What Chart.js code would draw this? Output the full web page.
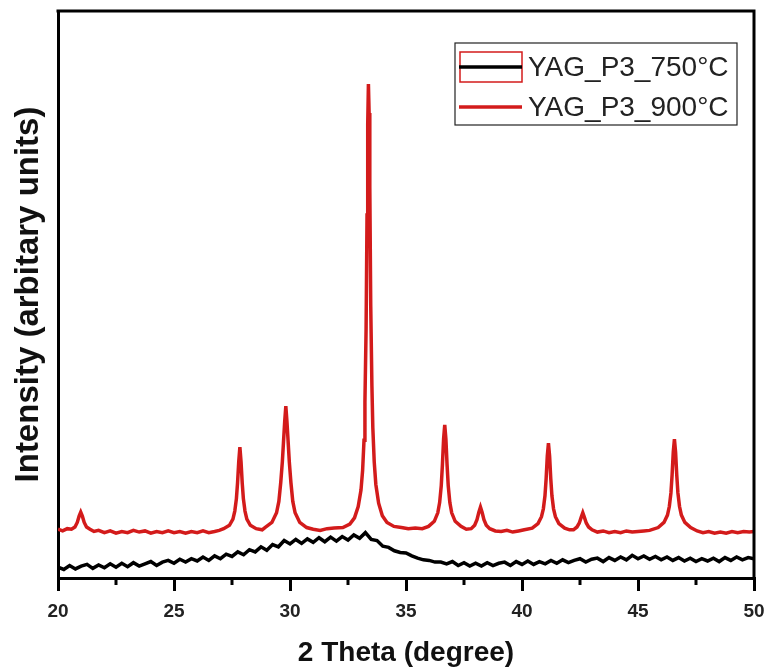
<!DOCTYPE html>
<html>
<head>
<meta charset="utf-8">
<title>YAG XRD</title>
<script src="https://cdn.jsdelivr.net/npm/chart.js@4/dist/chart.umd.min.js"></script>
<style>
  body { margin: 0; background: #fff; }
  canvas { display: block; }
</style>
</head>
<body>
<canvas id="xrdChart" width="769" height="670"></canvas>
<script>
// ================= DATA =================
const seriesNames = ["YAG_P3_750°C", "YAG_P3_900°C"];
const xTickValues = [20, 25, 30, 35, 40, 45, 50];
const xMinorTicks = [22.5, 27.5, 32.5, 37.5, 42.5, 47.5];

// 750°C sample (amorphous hump)
const theta750 = [
  20.00, 20.25, 20.50, 20.75, 21.00, 21.25, 21.50, 21.75, 22.00, 22.25, 22.50, 22.75,
  23.00, 23.25, 23.50, 23.75, 24.00, 24.25, 24.50, 24.75, 25.00, 25.25, 25.50, 25.75,
  26.00, 26.25, 26.50, 26.75, 27.00, 27.25, 27.50, 27.75, 28.00, 28.25, 28.50, 28.75,
  29.00, 29.25, 29.50, 29.75, 30.00, 30.25, 30.50, 30.75, 31.00, 31.25, 31.50, 31.75,
  32.00, 32.25, 32.50, 32.75, 33.00, 33.25, 33.50, 33.75, 34.00, 34.25, 34.50, 34.75,
  35.00, 35.25, 35.50, 35.75, 36.00, 36.25, 36.50, 36.75, 37.00, 37.25, 37.50, 37.75,
  38.00, 38.25, 38.50, 38.75, 39.00, 39.25, 39.50, 39.75, 40.00, 40.25, 40.50, 40.75,
  41.00, 41.25, 41.50, 41.75, 42.00, 42.25, 42.50, 42.75, 43.00, 43.25, 43.50, 43.75,
  44.00, 44.25, 44.50, 44.75, 45.00, 45.25, 45.50, 45.75, 46.00, 46.25, 46.50, 46.75,
  47.00, 47.25, 47.50, 47.75, 48.00, 48.25, 48.50, 48.75, 49.00, 49.25, 49.50, 49.75,
  50.00
];
const intensity750 = [
  1.9, 1.5, 2.2, 1.6, 2.1, 2.4, 1.7, 2.3, 1.8, 2.5, 1.9, 2.6,
  2.0, 2.7, 2.1, 2.5, 2.9, 2.2, 2.8, 3.1, 2.6, 3.3, 2.8, 3.4,
  3.0, 3.7, 3.1, 3.9, 3.4, 4.2, 3.8, 4.6, 4.1, 5.0, 4.6, 5.5,
  4.9, 5.9, 5.5, 6.6, 6.0, 6.8, 6.1, 6.9, 6.3, 7.1, 6.4, 7.2,
  6.5, 7.3, 6.7, 7.6, 7.0, 8.0, 6.8, 6.6, 5.6, 5.4, 4.8, 4.5,
  4.4, 3.9, 3.5, 3.2, 3.1, 2.8, 2.8, 2.5, 2.9, 2.2, 2.7, 2.1,
  2.6, 2.1, 2.7, 2.2, 2.6, 2.8, 2.2, 2.9, 2.4, 3.0, 2.4, 2.9,
  2.5, 3.1, 2.6, 3.2, 2.7, 3.1, 3.4, 2.8, 3.3, 3.5, 2.9, 3.6,
  3.1, 3.7, 3.2, 4.0, 3.4, 3.9, 3.3, 3.8, 3.2, 3.7, 3.1, 3.6,
  3.0, 3.5, 2.9, 3.4, 3.0, 3.5, 2.9, 3.6, 3.1, 3.7, 3.2, 3.6,
  3.4
];

// 900°C sample (crystalline YAG peaks), one line per region
const theta900 = [
  20.00, 20.20, 20.40, 20.58, 20.73, 20.83, 20.91, 20.98, 21.05, 21.13, 21.23, 21.38, 21.55,
  21.75, 22.00, 22.25, 22.50, 22.75, 23.00, 23.25, 23.50, 23.75, 24.00, 24.25, 24.50, 24.75, 25.00, 25.25, 25.50, 25.75, 26.00, 26.25, 26.50, 26.75, 26.95,
  27.14, 27.39, 27.54, 27.62, 27.69, 27.74, 27.79, 27.84, 27.89, 27.94, 27.99, 28.06, 28.14, 28.29, 28.54, 28.80,
  28.92, 29.22, 29.42, 29.52, 29.60, 29.67, 29.72, 29.77, 29.82, 29.87, 29.92, 29.97, 30.04, 30.12, 30.22, 30.42, 30.72,
  31.00, 31.30, 31.60, 31.90,
  32.28, 32.58, 32.78, 32.94, 33.06, 33.13, 33.19, 33.23, 33.28, 33.32, 33.35, 33.38, 33.41, 33.44, 33.48, 33.53, 33.57, 33.63, 33.70, 33.82, 33.98, 34.18, 34.48,
  34.80, 35.10, 35.40, 35.70,
  35.97, 36.22, 36.37, 36.45, 36.52, 36.57, 36.62, 36.67, 36.72, 36.77, 36.82, 36.89, 36.97, 37.12, 37.37, 37.60,
  37.81, 37.96, 38.06, 38.14, 38.21, 38.28, 38.36, 38.46, 38.61,
  38.85, 39.10, 39.35, 39.60, 39.85, 40.10,
  40.44, 40.69, 40.84, 40.92, 40.99, 41.04, 41.09, 41.14, 41.19, 41.24, 41.29, 41.36, 41.44, 41.59, 41.84, 42.05,
  42.22, 42.37, 42.47, 42.55, 42.62, 42.69, 42.77, 42.87, 43.02,
  43.25, 43.50, 43.75, 44.00, 44.25, 44.50, 44.75, 45.00, 45.25, 45.50,
  45.87, 46.12, 46.27, 46.35, 46.42, 46.47, 46.52, 46.57, 46.62, 46.67, 46.72, 46.79, 46.87, 47.02, 47.27,
  47.55, 47.80, 48.05, 48.30, 48.55, 48.80, 49.05, 49.30, 49.55, 49.80, 50.00
];
const intensity900 = [
  8.6, 8.3, 8.7, 8.6, 9.0, 9.8, 10.9, 11.6, 10.9, 9.8, 9.0, 8.6, 8.2,
  8.4, 8.0, 8.3, 7.9, 8.2, 8.0, 8.4, 8.1, 8.3, 7.9, 8.2, 8.0, 8.3, 8.0, 8.2, 7.9, 8.2, 8.0, 8.3, 8.0, 8.2, 8.4,
  8.7, 9.3, 10.4, 11.8, 14.0, 16.8, 20.5, 23.1, 20.5, 16.8, 14.0, 11.8, 10.4, 9.3, 8.7, 8.5,
  8.9, 9.8, 11.5, 13.5, 16.8, 20.5, 24.0, 27.5, 30.3, 27.5, 24.0, 20.5, 16.8, 13.5, 11.5, 9.8, 8.9,
  8.6, 8.4, 8.7, 8.8,
  8.9, 9.5, 10.6, 12.6, 15.5, 19.0, 24.3, 31.0, 44.0, 64.0, 80.0, 87.1, 82.0, 69.0, 48.0, 34.0, 26.5, 20.5, 16.5, 13.2, 11.0, 9.8, 9.1,
  8.9, 8.7, 8.8, 8.7,
  9.1, 10.0, 11.5, 13.3, 16.3, 20.0, 24.5, 27.0, 24.5, 20.0, 16.3, 13.3, 11.5, 10.0, 9.1, 8.6,
  8.7, 9.3, 10.3, 11.6, 12.5, 11.6, 10.3, 9.3, 8.7,
  8.3, 8.2, 8.4, 8.1, 8.3, 8.5,
  8.8, 9.6, 10.8, 12.2, 14.5, 17.5, 21.5, 23.8, 21.5, 17.5, 14.5, 12.2, 10.8, 9.6, 8.8, 8.5,
  8.5, 9.0, 9.7, 10.7, 11.5, 10.7, 9.7, 9.0, 8.5,
  8.1, 8.3, 8.0, 8.2, 8.0, 8.3, 8.1, 8.2, 8.3, 8.4,
  8.9, 9.8, 11.1, 12.6, 15.0, 18.2, 22.2, 24.5, 22.2, 18.2, 15.0, 12.6, 11.1, 9.8, 8.9,
  8.3, 8.0, 8.2, 7.9, 8.1, 7.9, 8.2, 8.0, 8.2, 8.1, 8.2
];

// ================= HELPERS =================
const toPoints = (xs, ys) => xs.map((x, i) => ({ x: x, y: ys[i] }));
const FONT = "'Liberation Sans', Arial, sans-serif";

// ================= PLUGIN: FRAME, MINOR TICKS, LEGEND =================
const framePlugin = {
  id: "framePlugin",
  afterDraw(chart) {
    const ctx = chart.ctx;
    const area = chart.chartArea;
    const xs = chart.scales.x;

    ctx.save();
    // top + right border
    ctx.strokeStyle = "#000";
    ctx.lineWidth = 3;
    ctx.beginPath();
    ctx.moveTo(area.left - 1.5, area.top);
    ctx.lineTo(area.right, area.top);
    ctx.lineTo(area.right, area.bottom + 1.5);
    ctx.stroke();

    // minor ticks
    xMinorTicks.forEach(v => {
      const px = xs.getPixelForValue(v);
      ctx.beginPath();
      ctx.moveTo(px, area.bottom);
      ctx.lineTo(px, area.bottom + 7);
      ctx.stroke();
    });

    // legend
    const ds = chart.data.datasets;
    ctx.lineWidth = 1.2;
    ctx.strokeStyle = "#222";
    ctx.strokeRect(455, 43, 282, 82);

    const rows = [67, 107];
    ctx.font = "28px " + FONT;
    ctx.textBaseline = "middle";
    ctx.fillStyle = "#222";
    ds.forEach((d, i) => {
      const y = rows[i];
      if (i === 0) {
        ctx.strokeStyle = ds[1].borderColor;
        ctx.lineWidth = 1.5;
        ctx.strokeRect(460, y - 15, 62, 30);
      }
      ctx.strokeStyle = d.borderColor;
      ctx.lineWidth = 3.5;
      ctx.beginPath();
      ctx.moveTo(459, y);
      ctx.lineTo(522, y);
      ctx.stroke();
      ctx.fillText(d.label, 528, y + 1);
    });
    ctx.restore();
  }
};

// ================= CHART =================
const ctx = document.getElementById("xrdChart").getContext("2d");

const xrdChart = new Chart(ctx, {
  type: "line",
  data: {
    datasets: [
      {
        label: seriesNames[0],
        data: toPoints(theta750, intensity750),
        borderColor: "#000000",
        borderWidth: 3.5,
        pointRadius: 0,
        tension: 0,
        fill: false
      },
      {
        label: seriesNames[1],
        data: toPoints(theta900, intensity900),
        borderColor: "#d31b1b",
        borderWidth: 3.5,
        pointRadius: 0,
        tension: 0,
        fill: false
      }
    ]
  },
  options: {
    responsive: false,
    animation: false,
    layout: {
      padding: { top: 11, right: 15, left: 0, bottom: 0 }
    },
    plugins: {
      legend: { display: false },
      tooltip: { enabled: false }
    },
    scales: {
      x: {
        type: "linear",
        min: 20,
        max: 50,
        afterFit: s => {
          s.height = 92;
          s.paddingLeft = 0;
          s.paddingRight = 0;
        },
        afterBuildTicks: s => { s.ticks = xTickValues.map(v => ({ value: v })); },
        border: { display: true, color: "#000", width: 3 },
        grid: {
          drawOnChartArea: false,
          drawTicks: true,
          tickLength: 13,
          color: "#000",
          lineWidth: 3
        },
        ticks: {
          maxRotation: 0,
          autoSkip: false,
          padding: 9,
          color: "#222",
          font: { family: FONT, size: 19, weight: "bold" }
        },
        title: {
          display: true,
          text: "2 Theta (degree)",
          color: "#111",
          padding: { top: 0, bottom: 0 },
          font: { family: FONT, size: 28, weight: "bold" }
        }
      },
      y: {
        min: 0,
        max: 100,
        afterFit: s => { s.width = 58; },
        border: { display: true, color: "#000", width: 3 },
        grid: { display: false },
        ticks: { display: false },
        title: {
          display: true,
          text: "Intensity (arbitary units)",
          color: "#111",
          padding: { top: 9, bottom: 0 },
          font: { family: FONT, size: 33, weight: "bold" }
        }
      }
    }
  },
  plugins: [framePlugin]
});
</script>
</body>
</html>
